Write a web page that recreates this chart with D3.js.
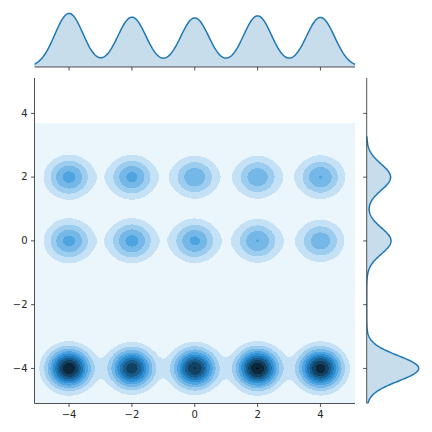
<!DOCTYPE html>
<html>
<head>
<meta charset="utf-8">
<script src="https://cdn.jsdelivr.net/npm/d3@7"></script>
<style>
body { margin: 0; background: #fff; }
text { font-family: "DejaVu Sans", sans-serif; font-size: 10px; }
</style>
</head>
<body>
<div id="chart"></div>
<script>
// cluster centres of the joint density
var xCenters = [-4, -2, 0, 2, 4];
var yCenters = [2, 0, -4];
// peak height of every cluster, in contour steps (rows follow yCenters)
var peaks = [
    [4.4, 4.3, 3.85, 3.8, 4.03],
    [4.35, 4.4, 4.25, 4.03, 3.7],
    [9.95, 8.7, 9.05, 10.05, 9.6]
];
var spreadX = [0.47, 0.47, 0.44];
var spreadY = [0.41, 0.41, 0.4];
var levels = [0, 1, 2, 3, 4, 5, 6, 7, 8, 9, 10];
var xTicks = [-4, -2, 0, 2, 4];
var yTicks = [-4, -2, 0, 2, 4];
var xDomain = [-5.1, 5.1];
var yDomain = [-5.1, 5.11];
var gridX = [-5.3, 5.3];      // support of the 2d estimate
var gridY = [-5.4, 3.7];
var margYSupport = [-5.4, 3.28];

var width = 432, height = 432;
var joint = { left: 34.5, right: 355, top: 78, bottom: 403.5 };
var margTop = { top: 10.8, bottom: 67 };
var margRight = { left: 366.7, right: 421.3 };

var svg = d3.select("#chart").append("svg")
    .attr("width", width)
    .attr("height", height);

var xScale = d3.scaleLinear().domain(xDomain).range([joint.left, joint.right]);
var yScale = d3.scaleLinear().domain(yDomain).range([joint.bottom, joint.top]);

function density(x, y) {
    var s = 0;
    yCenters.forEach(function (cy, r) {
        xCenters.forEach(function (cx, c) {
            var dx = (x - cx) / spreadX[r], dy = (y - cy) / spreadY[r];
            s += peaks[r][c] * Math.exp(-0.5 * (dx * dx + dy * dy));
        });
    });
    return s;
}
function margX(x) {
    var s = 0;
    yCenters.forEach(function (cy, r) {
        xCenters.forEach(function (cx, c) {
            var dx = (x - cx) / spreadX[r];
            s += peaks[r][c] * spreadY[r] * Math.exp(-0.5 * dx * dx);
        });
    });
    return s;
}
function margY(y) {
    var s = 0;
    yCenters.forEach(function (cy, r) {
        xCenters.forEach(function (cx, c) {
            var dy = (y - cy) / spreadY[r];
            s += peaks[r][c] * spreadX[r] * Math.exp(-0.5 * dy * dy);
        });
    });
    return s;
}

// colour ramp: hue of C0 from white down to black
var c0 = d3.hsl("#1f77b4");
var ramp = d3.range(12).map(function (i) {
    return d3.hsl(c0.h, c0.s, 1 - i / 11).rgb().toString();
});
var cmap = d3.piecewise(d3.interpolateRgb, ramp);

// density grid
var n = 260, m = 240;
var gdx = (gridX[1] - gridX[0]) / n, gdy = (gridY[1] - gridY[0]) / m;
var values = new Array(n * m);
for (var j = 0; j < m; j++) {
    for (var i = 0; i < n; i++) {
        values[j * n + i] = density(gridX[0] + (i + 0.5) * gdx, gridY[1] - (j + 0.5) * gdy);
    }
}
var contours = d3.contours().size([n, m]).thresholds(levels)(values);

var toPixels = d3.geoTransform({
    point: function (x, y) {
        this.stream.point(xScale(gridX[0] + x * gdx), yScale(gridY[1] - y * gdy));
    }
});
var path = d3.geoPath(toPixels);

var defs = svg.append("defs");
defs.append("clipPath").attr("id", "clip-joint").append("rect")
    .attr("x", joint.left).attr("y", joint.top)
    .attr("width", joint.right - joint.left).attr("height", joint.bottom - joint.top);
defs.append("clipPath").attr("id", "clip-top").append("rect")
    .attr("x", joint.left).attr("y", 0)
    .attr("width", joint.right - joint.left).attr("height", margTop.bottom);
defs.append("clipPath").attr("id", "clip-right").append("rect")
    .attr("x", margRight.left).attr("y", joint.top)
    .attr("width", width - margRight.left).attr("height", joint.bottom - joint.top);

svg.append("g")
    .attr("clip-path", "url(#clip-joint)")
    .selectAll("path")
    .data(contours)
    .enter().append("path")
    .attr("d", path)
    .attr("fill", function (d, i) { return cmap((i + 0.5) / levels.length); })
    .attr("shape-rendering", "crispEdges");

// marginal x
var xs = d3.range(0, 401).map(function (k) { return gridX[0] + k * (gridX[1] - gridX[0]) / 400; });
var topData = xs.map(function (x) { return [x, margX(x)]; });
var topScale = d3.scaleLinear()
    .domain([0, d3.max(topData, function (d) { return d[1]; }) * 1.05])
    .range([margTop.bottom, margTop.top]);

var gTop = svg.append("g").attr("clip-path", "url(#clip-top)");
gTop.append("path")
    .datum(topData)
    .attr("fill", "#1f77b4")
    .attr("fill-opacity", 0.25)
    .attr("d", d3.area()
        .x(function (d) { return xScale(d[0]); })
        .y0(margTop.bottom)
        .y1(function (d) { return topScale(d[1]); }));
gTop.append("path")
    .datum(topData)
    .attr("fill", "none")
    .attr("stroke", "#1f77b4")
    .attr("stroke-width", 1.5)
    .attr("d", d3.line()
        .x(function (d) { return xScale(d[0]); })
        .y(function (d) { return topScale(d[1]); }));

// marginal y
var ys = d3.range(0, 401).map(function (k) { return margYSupport[0] + k * (margYSupport[1] - margYSupport[0]) / 400; });
var rightData = ys.map(function (y) { return [y, margY(y)]; });
var rightScale = d3.scaleLinear()
    .domain([0, d3.max(rightData, function (d) { return d[1]; }) * 1.05])
    .range([margRight.left, margRight.right]);

var gRight = svg.append("g").attr("clip-path", "url(#clip-right)");
gRight.append("path")
    .datum(rightData)
    .attr("fill", "#1f77b4")
    .attr("fill-opacity", 0.25)
    .attr("d", d3.area()
        .y(function (d) { return yScale(d[0]); })
        .x0(margRight.left)
        .x1(function (d) { return rightScale(d[1]); }));
gRight.append("path")
    .datum(rightData)
    .attr("fill", "none")
    .attr("stroke", "#1f77b4")
    .attr("stroke-width", 1.5)
    .attr("d", d3.line()
        .y(function (d) { return yScale(d[0]); })
        .x(function (d) { return rightScale(d[1]); }));

// axes
var fmt = d3.format("d");
function styleAxis(g) {
    g.attr("color", "#262626");
    g.select(".domain").attr("stroke-width", 0.8);
    g.selectAll(".tick line").attr("stroke-width", 0.8);
    g.selectAll("text").attr("font-size", "10px").attr("font-family", "DejaVu Sans, sans-serif");
}

svg.append("g")
    .attr("transform", "translate(0," + joint.bottom + ")")
    .call(d3.axisBottom(xScale).tickValues(xTicks).tickFormat(fmt)
        .tickSize(3.5).tickSizeOuter(0).tickPadding(3.5).offset(0))
    .call(styleAxis);

svg.append("g")
    .attr("transform", "translate(" + joint.left + ",0)")
    .call(d3.axisLeft(yScale).tickValues(yTicks).tickFormat(fmt)
        .tickSize(3.5).tickSizeOuter(0).tickPadding(3.5).offset(0))
    .call(styleAxis);

svg.append("g")
    .attr("transform", "translate(0," + margTop.bottom + ")")
    .call(d3.axisBottom(xScale).tickValues(xTicks).tickFormat("")
        .tickSize(3.5).tickSizeOuter(0).offset(0))
    .call(styleAxis);

svg.append("g")
    .attr("transform", "translate(" + margRight.left + ",0)")
    .call(d3.axisLeft(yScale).tickValues(yTicks).tickFormat("")
        .tickSize(3.5).tickSizeOuter(0).offset(0))
    .call(styleAxis);
</script>
</body>
</html>
